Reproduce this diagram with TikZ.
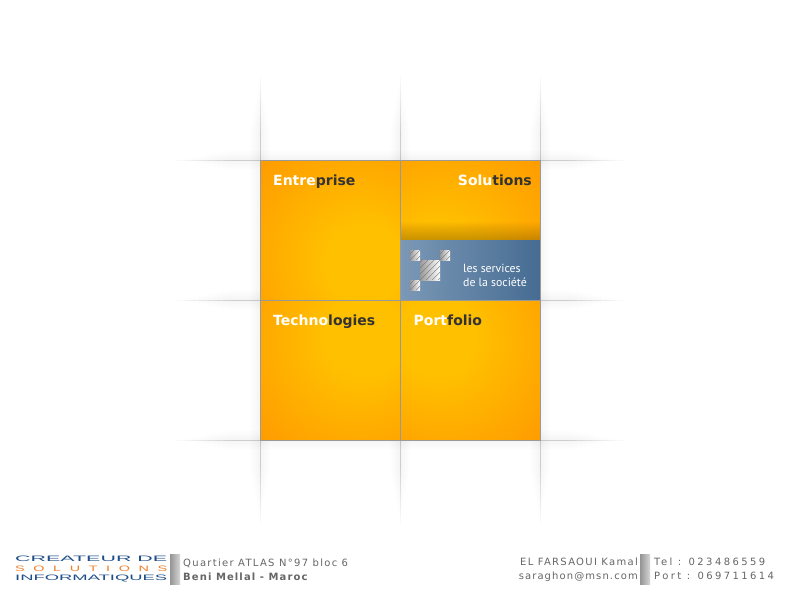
\documentclass[tikz,border=0pt]{standalone}
\usepackage{fontspec}
\setmainfont{DejaVu Sans}
\newfontfamily\footfont[LetterSpace=11]{DejaVu Sans}
\newfontfamily\footmid[LetterSpace=13]{DejaVu Sans}
\newfontfamily\footwide[LetterSpace=24]{DejaVu Sans}
\newfontfamily\logofont{Liberation Sans}
\newfontfamily\panelfont{PT Sans}
\definecolor{oBright}{HTML}{FFC000}
\definecolor{oDark}{HTML}{FF9700}
\definecolor{cellEdge}{HTML}{999999}
\definecolor{txtDark}{HTML}{333333}
\definecolor{footTxt}{HTML}{666666}
\definecolor{panelA}{HTML}{7B98B6}
\definecolor{panelB}{HTML}{466C92}
\definecolor{logoBlue}{HTML}{1F4E86}
\definecolor{logoOrange}{HTML}{F0802A}
\pgfdeclareradialshading{cellTL}{\pgfpoint{14bp}{-14bp}}{color(0bp)=(oBright);color(14bp)=(oBright);color(50bp)=(oDark);color(100bp)=(oDark)}
\pgfdeclareradialshading{cellTR}{\pgfpoint{-14bp}{-14bp}}{color(0bp)=(oBright);color(14bp)=(oBright);color(50bp)=(oDark);color(100bp)=(oDark)}
\pgfdeclareradialshading{cellBL}{\pgfpoint{14bp}{14bp}}{color(0bp)=(oBright);color(14bp)=(oBright);color(50bp)=(oDark);color(100bp)=(oDark)}
\pgfdeclareradialshading{cellBR}{\pgfpoint{-14bp}{14bp}}{color(0bp)=(oBright);color(14bp)=(oBright);color(50bp)=(oDark);color(100bp)=(oDark)}
\tikzset{
  x=1pt,y=-1pt,
  cellbox/.style={draw=cellEdge,line width=1.2pt},
  title/.style={font=\fontsize{14}{14}\selectfont\bfseries,anchor=base west,inner sep=0pt,white},
  foot/.style={font=\fontsize{10}{10}\footfont,text=footTxt,anchor=base west,inner sep=0pt},
  footb/.style={font=\fontsize{10}{10}\footfont\bfseries,text=footTxt,anchor=base west,inner sep=0pt},
  halolayer/.style={fill=black,opacity=.004},
  corelayer/.style={fill=black,opacity=.018},
  bar/.style={left color=black!42,right color=black!16},
  logoline/.style={inner sep=0pt,anchor=west},
  sq/.style={left color=black!40,right color=white},
  paneltext/.style={font=\fontsize{11.8}{14}\selectfont\panelfont,text=white,anchor=base west,inner sep=0pt}
}
\newcommand{\stripes}[4]{%
  \begin{scope}
    \clip (#1,#2) rectangle (#3,#4);
    \foreach \k in {-42,-36,...,42}{\draw[black!55,line width=.35pt] ({#1+\k},#4) -- ++(40,-40);}
  \end{scope}}
\begin{document}
\begin{tikzpicture}
\useasboundingbox (0,0) rectangle (800,600);
\fill[white] (0,0) rectangle (800,600);
% soft guide lines: stacked translucent layers, narrow ones reach furthest
\foreach \gx in {260,400,540}{
  \foreach \w in {1,...,10}{
    \path[halolayer] (\gx-\w,{78+5*\w}) rectangle (\gx+\w,{522-5*\w});
  }
  \foreach \k in {0,...,7}{
    \path[corelayer] (\gx-.5,{75+8*\k}) rectangle (\gx+.5,{525-8*\k});
  }
}
\foreach \gy in {160,300,440}{
  \foreach \w in {1,...,10}{
    \path[halolayer] ({178+5*\w},\gy-\w) rectangle ({622-5*\w},\gy+\w);
  }
  \foreach \k in {0,...,7}{
    \path[corelayer] ({175+8*\k},\gy-.5) rectangle ({625-8*\k},\gy+.5);
  }
}
% orange cells
\path[shading=cellTL,cellbox] (260.5,160.5) rectangle (400.5,300.5);
\path[shading=cellTR,cellbox] (400.5,160.5) rectangle (540.5,300.5);
\path[shading=cellBL,cellbox] (260.5,300.5) rectangle (400.5,440.5);
\path[shading=cellBR,cellbox] (400.5,300.5) rectangle (540.5,440.5);
% panel
\foreach \s in {0,...,17}{\fill[black,opacity=.011] (401,{222+\s}) rectangle (540,240);}
\shade[left color=panelA,right color=panelB] (401,240) rectangle (540,300);
\draw[cellEdge,line width=1.2pt] (400.5,160.5) rectangle (540.5,300.5);
% icon
\shade[sq] (410,250) rectangle (420,260); \stripes{410}{250}{420}{260}
\shade[sq] (440,250) rectangle (450,260); \stripes{440}{250}{450}{260}
\shade[sq] (410,280) rectangle (420,290); \stripes{410}{280}{420}{290}
\shade[sq] (420,260) rectangle (440,280); \stripes{420}{260}{440}{280}
\node[paneltext] (panelA1) at (463,272) {les services};
\node[paneltext] (panelA2) at (463,286) {de la société};
% titles
\node[title] (t1) at (273,185) {Entre\textcolor{txtDark}{prise}};
\node[title,anchor=base east] (t2) at (532,185) {Solu\textcolor{txtDark}{tions}};
\node[title] (t3) at (273,325) {Techno\textcolor{txtDark}{logies}};
\node[title] (t4) at (413.5,325) {Port\textcolor{txtDark}{folio}};
% footer logo
\node[logoline] (logoA) at (15,559) {\resizebox{152pt}{5.5pt}{\logofont\textcolor{logoBlue}{CREATEUR DE}}};
\node[logoline] (logoB) at (15,569) {\resizebox{152pt}{5.5pt}{\logofont\addfontfeature{LetterSpace=60}\textcolor{logoOrange}{SOLUTIONS}}};
\node[logoline] (logoC) at (15,578) {\resizebox{152pt}{5.5pt}{\logofont\textcolor{logoBlue}{INFORMATIQUES}}};
% bars
\shade[bar] (170,554) rectangle (180,584);
\shade[bar] (640,554) rectangle (650,584);
% footer text
\node[foot,font=\fontsize{10}{10}\footmid] (a1) at (183,566) {Quartier ATLAS N°97 bloc 6};
\node[footb] (a2) at (183,580) {Beni Mellal - Maroc};
\node[foot,font=\fontsize{10}{10}\footmid,anchor=base east] (b1) at (638,565) {EL FARSAOUI Kamal};
\node[foot,anchor=base east] (b2) at (638,579) {saraghon@msn.com};
\node[foot,font=\fontsize{10}{10}\footwide] (c1) at (654,565) {Tel : 023486559};
\node[foot,font=\fontsize{10}{10}\footwide] (c2) at (654,579) {Port : 069711614};
\end{tikzpicture}
\end{document}
